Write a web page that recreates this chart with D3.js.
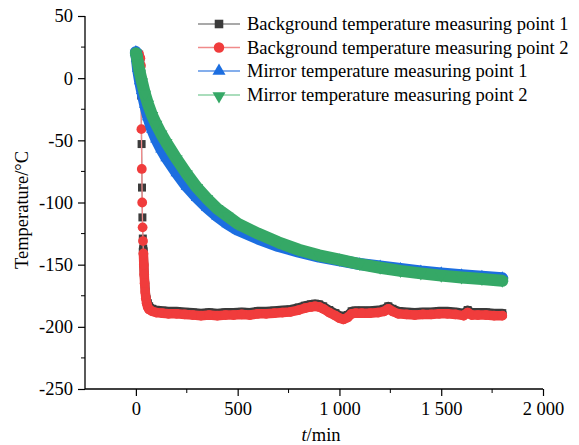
<!DOCTYPE html>
<html><head><meta charset="utf-8">
<script src="https://cdn.jsdelivr.net/npm/d3@7"></script>
<style>body{margin:0;background:#fff}svg{display:block}</style>
</head><body>
<svg id="c" width="579" height="445"></svg>
<script>
// ---------------- data ----------------
const seriesNames = [
  "Background temperature measuring point 1",
  "Background temperature measuring point 2",
  "Mirror temperature measuring point 1",
  "Mirror temperature measuring point 2"
];
const xTicks = [0, 500, 1000, 1500, 2000];
const xTickLabels = ["0", "500", "1 000", "1 500", "2 000"];
const xMinor = [250, 750, 1250, 1750];
const yTicks = [50, 0, -50, -100, -150, -200, -250];
const yMinor = [25, -25, -75, -125, -175, -225];

const timeBg1 = [0, 8, 16, 22, 26, 28, 30, 32, 34, 36, 38, 40, 42, 45, 48, 52, 58, 65, 80,
  100, 130, 160, 200, 240, 280, 320, 360, 400, 440, 480, 520, 560, 600, 640, 680, 720, 760, 800,
  830, 860, 880, 900, 920, 950, 980, 1000, 1020, 1040, 1060, 1080, 1110, 1150, 1190, 1220, 1240,
  1260, 1290, 1330, 1370, 1410, 1450, 1490, 1530, 1570, 1610, 1630, 1650, 1680, 1720, 1760, 1800];
const bg1 = [20, 20, 19, 15, -14, -53, -88, -112, -129, -137, -146, -154, -161, -168, -174, -178, -181, -183.5, -185.5,
  -186.5, -187, -187.5, -187.5, -188, -188.5, -189, -188.5, -189, -188.5, -188.5, -188, -188.5, -187.5, -187.5, -187, -186.5, -186, -184.5,
  -183, -182, -181.5, -182, -183.5, -186.5, -189, -191, -192, -190.5, -187.5, -187, -187, -187, -186.5, -185.5, -183.5,
  -185.5, -187.5, -188, -188.5, -188, -188, -187.5, -187.5, -188, -189, -186.5, -188.5, -188.5, -188.5, -189, -189];

const timeBg2 = [0, 8, 16, 22, 25, 27, 29, 31, 33, 35, 37, 39, 41, 43, 46, 49, 53, 58, 65, 80,
  100, 130, 160, 200, 240, 280, 320, 360, 400, 440, 480, 520, 560, 600, 640, 680, 720, 760, 800,
  830, 860, 880, 900, 920, 950, 980, 1000, 1020, 1040, 1060, 1080, 1110, 1150, 1190, 1220, 1240,
  1260, 1290, 1330, 1370, 1410, 1450, 1490, 1530, 1570, 1610, 1630, 1650, 1680, 1720, 1760, 1800];
const bg2 = [20, 20, 19, 16, 10, -41, -73, -100, -120, -131, -141, -150, -158, -165, -172, -177, -181, -184, -186, -187.5,
  -188.5, -189, -189.5, -189.5, -190, -190.5, -191, -190.5, -191, -190.5, -190.5, -190, -190.5, -189.5, -189.5, -189, -188.5, -188, -186.5,
  -185, -184, -183.5, -184, -185.5, -188.5, -191, -193, -194, -192.5, -189.5, -189, -189, -189, -188.5, -187.5, -185.5,
  -187.5, -189.5, -190, -190.5, -190, -190, -189.5, -189.5, -190, -191, -188.5, -190.5, -190.5, -190.5, -191, -191];

const timeMirror = [0, 5, 10, 20, 30, 45, 60, 80, 100, 125, 150, 200, 250, 300, 350, 400, 450, 500,
  600, 700, 800, 900, 1000, 1100, 1200, 1300, 1400, 1500, 1600, 1700, 1800];
const mirror1 = [21, 16, 8, -2, -10, -21, -31, -41, -49, -57, -64, -76, -87, -96, -104, -111, -117, -122,
  -129, -135, -139.5, -143.5, -146.5, -149.5, -151.5, -153.5, -155.5, -157, -158.5, -159.8, -161];
const mirror2 = [20, 17, 12, 4, -3, -13, -21, -30, -37, -45, -52, -65, -77, -88, -97, -105, -111, -117,
  -125, -132, -138, -142.5, -146, -149.5, -152.5, -155, -157, -158.8, -160.3, -161.6, -163];

// ---------------- layout / style ----------------
const plotL = 85, plotR = 543, plotT = 16, plotB = 389;
const font = "'Liberation Serif','Times New Roman',serif";
const styles = [
  {marker: "#3b3b3b", line: "#8c8c8c", shape: d3.symbolSquare, size: 64, band: 9, bandFrom: 36},
  {marker: "#f03c3c", line: "#f08a8a", shape: d3.symbolCircle, size: 75, band: 9.5, bandFrom: 37},
  {marker: "#1c6ee0", line: "#5b93e6", shape: d3.symbolTriangle, size: 64, band: 12, bandFrom: 0},
  {marker: "#35a866", line: "#8ed2a6", shape: d3.symbolTriangle, size: 64, band: 12, bandFrom: 0, flip: true}
];
const series = [
  {t: timeBg1, v: bg1}, {t: timeBg2, v: bg2}, {t: timeMirror, v: mirror1}, {t: timeMirror, v: mirror2}
];

const svg = d3.select("#c");
const x = d3.scaleLinear().domain([-250, 2000]).range([plotL, plotR]);
const y = d3.scaleLinear().domain([-250, 50]).range([plotB, plotT]);

// axes
const xAxis = d3.axisBottom(x).tickValues(xTicks).tickFormat((d, i) => xTickLabels[i]).tickSize(7).tickPadding(6);
const gx = svg.append("g").attr("transform", `translate(0,${plotB})`).call(xAxis);
gx.select(".domain").attr("d", `M${plotL},0H${plotR}`);
gx.append("g").selectAll("line").data(xMinor).join("line")
  .attr("x1", d => x(d)).attr("x2", d => x(d)).attr("y1", 0).attr("y2", 4).attr("stroke", "#000");
const yAxis = d3.axisLeft(y).tickValues(yTicks).tickFormat(d3.format("d")).tickSize(7).tickPadding(5);
const gy = svg.append("g").attr("transform", `translate(${plotL},0)`).call(yAxis);
gy.select(".domain").attr("d", `M0,${plotT}V${plotB}`);
gy.append("g").selectAll("line").data(yMinor).join("line")
  .attr("y1", d => y(d)).attr("y2", d => y(d)).attr("x1", 0).attr("x2", -4).attr("stroke", "#000");
[gx, gy].forEach(g => {
  g.selectAll(".domain").attr("stroke", "#000").attr("stroke-width", 1.3);
  g.selectAll(".tick line").attr("stroke", "#000").attr("stroke-width", 1.2);
  g.selectAll("text").attr("font-family", font).attr("font-size", 18.5).attr("fill", "#000");
});
gy.selectAll(".tick text").text(d => d < 0 ? "-" + Math.abs(d) : d);

// axis titles
const xt = svg.append("text").attr("x", 321).attr("y", 441).attr("text-anchor", "middle")
  .attr("font-family", font).attr("font-size", 18.5);
xt.append("tspan").attr("font-style", "italic").text("t");
xt.append("tspan").text("/min");
svg.append("text").attr("transform", "translate(28,210) rotate(-90)").attr("text-anchor", "middle")
  .attr("font-family", font).attr("font-size", 18.5).text("Temperature/°C");

// series
const line = d3.line().x(d => x(d[0])).y(d => y(d[1]));
series.forEach((s, i) => {
  const st = styles[i];
  const pts = s.t.map((t, j) => [t, s.v[j]]);
  const g = svg.append("g");
  g.append("path").attr("d", line(pts)).attr("fill", "none").attr("stroke", st.line).attr("stroke-width", 1.3);
  const bandPts = pts.filter(p => p[0] >= st.bandFrom);
  g.append("path").attr("d", line(bandPts)).attr("fill", "none").attr("stroke", st.marker)
    .attr("stroke-width", st.band).attr("stroke-linejoin", "round").attr("stroke-linecap", "round");
  g.selectAll("path.m").data(pts).join("path").attr("class", "m")
    .attr("d", d3.symbol().type(st.shape).size(st.size))
    .attr("transform", d => `translate(${x(d[0])},${y(d[1])})${st.flip ? " rotate(180)" : ""}`)
    .attr("fill", st.marker);
});

// legend
const legY = [24, 47.5, 71, 95];
seriesNames.forEach((name, i) => {
  const st = styles[i];
  const g = svg.append("g").attr("transform", `translate(0,${legY[i]})`);
  g.append("line").attr("x1", 198).attr("x2", 240).attr("y1", 0).attr("y2", 0)
    .attr("stroke", st.line).attr("stroke-width", 1.3);
  g.append("path").attr("d", d3.symbol().type(st.shape).size(st.size * 1.15)())
    .attr("transform", `translate(219,${st.flip ? 1 : 0})${st.flip ? " rotate(180)" : ""}`).attr("fill", st.marker);
  g.append("text").attr("x", 247).attr("y", 6).attr("font-family", font).attr("font-size", 18.5)
    .attr("fill", "#000").text(name);
});
</script>
</body></html>
